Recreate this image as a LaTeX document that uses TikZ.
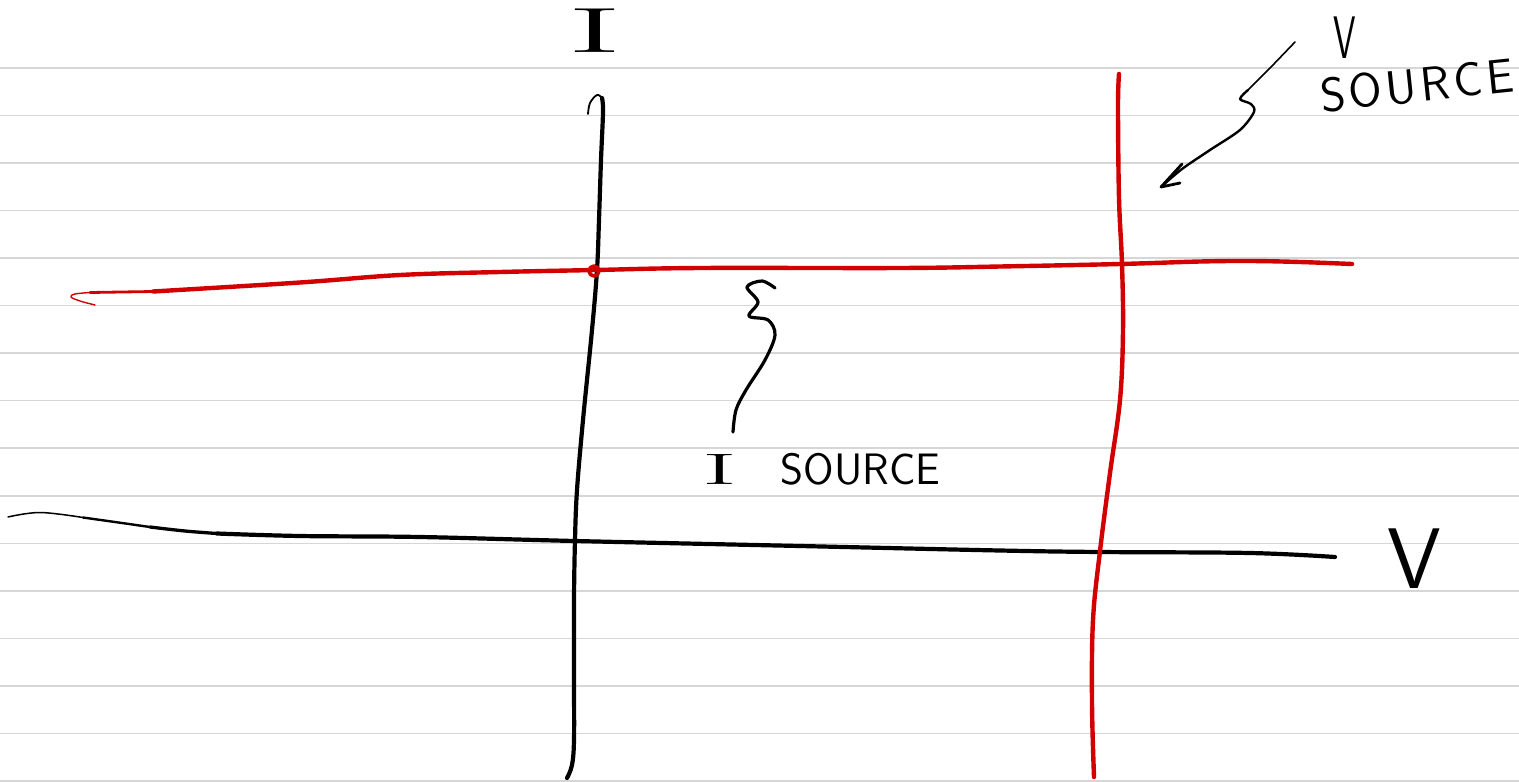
\documentclass[tikz,border=0pt]{standalone}
\usepackage{graphicx}
\definecolor{rule}{RGB}{214,214,214}
\definecolor{ink}{RGB}{0,0,0}
\definecolor{redink}{RGB}{210,0,0}
\tikzset{
  ruleline/.style={draw=rule, line width=1.5pt},
  axis/.style={draw=ink, line width=4.2pt, line cap=round, line join=round},
  redline/.style={draw=redink, line width=4.4pt, line cap=round, line join=round},
  pointer/.style={draw=ink, line width=2.8pt, line cap=round, line join=round},
  lbl/.style={inner sep=0pt, outer sep=0pt, text=ink}
}
\begin{document}
\begin{tikzpicture}[x=1pt,y=-1pt]
\useasboundingbox (0,0) rectangle (1519,782);
\fill[white] (0,0) rectangle (1519,782);
% ruled paper
\foreach \k in {0,...,15}{
  \draw[ruleline] (0,{68+47.53*\k}) -- (1519,{68+47.53*\k});
}
% black horizontal axis (V), tapering to the left
\draw[axis, line width=1.5pt] plot[smooth, tension=0.6] coordinates {(8,517) (40,512.5) (83,517.5)};
\draw[axis, line width=2.4pt] plot[smooth, tension=0.6] coordinates {(83,517.5) (115,522) (150,527)};
\draw[axis, line width=3.3pt] plot[smooth, tension=0.6] coordinates {(150,527) (185,531) (217,533.5)};
\draw[axis] plot[smooth, tension=0.6] coordinates {(217,533.5) (300,536) (420,537) (575,541) (800,546) (1000,550.5) (1100,552) (1250,553) (1335,557)};
% black vertical axis (I)
\draw[axis, line width=1.8pt] plot[smooth, tension=0.6] coordinates {(588,114) (590,103) (597,95) (602,98)};
\draw[axis] plot[smooth, tension=0.6] coordinates {(602,98) (603,112) (601,160) (599,220) (597,270) (592,330) (583,420) (577,490) (575,540) (574,600) (574,680) (574,740) (572,765) (567,778)};
% red horizontal line (I source)
\draw[redline, line width=1.4pt] plot[smooth, tension=0.6] coordinates {(95,305) (80,301) (71,297) (75,294) (90,292.5)};
\draw[redline, line width=2.8pt] (90,292.5) -- (153,291.5);
\draw[redline] plot[smooth, tension=0.6] coordinates {(153,291.5) (300,282.5) (400,275) (500,272) (595,270) (700,268) (900,268) (1000,266.5) (1120,264) (1200,261.5) (1250,261) (1300,262) (1352,264)};
\draw[redline, line width=3.6pt] (594,271) circle (5);
% red vertical line (V source)
\draw[redline] plot[smooth, tension=0.6] coordinates {(1119,74) (1118,106) (1119,198) (1122,264) (1123,331) (1120,400) (1110,473) (1100,551) (1093,620) (1092,703) (1094,777)};
% labels
\node[lbl, anchor=base] (ilab) at (595,52) {\fontsize{62}{62}\selectfont\scalebox{2.7}[1.03]{I}};
\node[lbl, anchor=base] (vlab) at (1414,588) {\fontsize{86}{86}\selectfont\sffamily V};
\node[lbl, anchor=base] (vsv) at (1345,58) {\fontsize{60}{60}\selectfont\sffamily\scalebox{0.6}[1]{V}};
\node[lbl, anchor=base west, rotate=6] (vss) at (1322,112) {\fontsize{48}{48}\selectfont\sffamily S\kern4pt O\kern4pt U\kern4pt R\kern4pt C\kern4pt E};
\node[lbl, anchor=base west] (iss) at (702,484) {\fontsize{44}{44}\selectfont{\rmfamily\scalebox{2.4}[1]{I}}\hspace{44pt}\sffamily SOURCE};
% pointer from "V SOURCE" to red vertical line
\coordinate (vsstart) at (1295,42);
\coordinate (vstip) at (1161,187);
\draw[pointer, line width=1.6pt] plot[smooth, tension=0.5] coordinates {(vsstart) (1270,68) (1248,90)};
\draw[pointer, line width=2.4pt] plot[smooth, tension=0.5] coordinates {(1248,90) (1240,99) (1251,104) (1254,112) (1240,130) (1210,150) (1182,169) (vstip)};
\draw[pointer] (1182,164) -- (vstip) -- (1180,183);
% pointer from "I SOURCE" to red horizontal line
\coordinate (isstart) at (733,432);
\coordinate (istip) at (775,288);
\draw[pointer, line width=3.2pt] plot[smooth, tension=0.55] coordinates {(istip) (762,281) (747,287) (758,302) (749,316) (768,320) (775,335) (765,360) (746,390) (736,410) (isstart)};
\end{tikzpicture}
\end{document}
